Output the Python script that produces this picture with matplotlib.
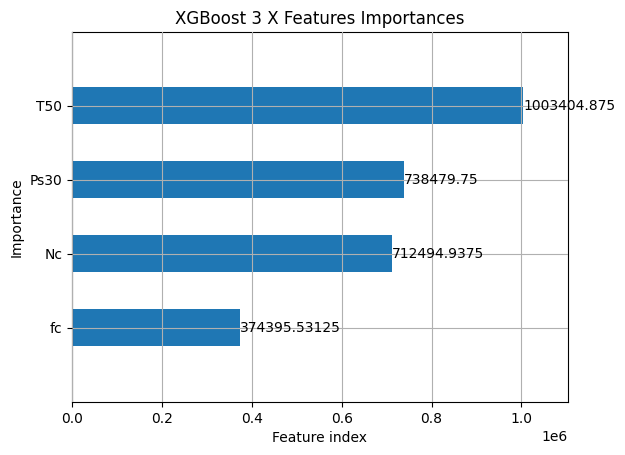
import numpy as np
import matplotlib
matplotlib.use('Agg')
import matplotlib.pyplot as plt

# Datos de importancia (de menor a mayor).
features = ['fc', 'Nc', 'Ps30', 'T50']
importances = [374395.53125, 712494.9375, 738479.75, 1003404.875]
value_labels = ['374395.53125', '712494.9375', '738479.75', '1003404.875']

fig, ax = plt.subplots(figsize=(6.25, 4.55), dpi=100)
fig.subplots_adjust(left=0.115, right=0.909, top=0.930, bottom=0.1165)

ylocs = np.arange(len(features))
ax.barh(ylocs, importances, align='center', height=0.5, color='#1f77b4')

for x, y, lab in zip(importances, ylocs, value_labels):
    ax.text(x, y, lab, va='center')

ax.set_yticks(ylocs)
ax.set_yticklabels(features)
ax.set_xlim(0, max(importances) * 1.1)
ax.set_ylim(-1, len(features))
ax.grid(True)
ax.set_axisbelow(False)

ax.set_title('XGBoost 3 X Features Importances')
ax.set_xlabel('Feature index')
ax.set_ylabel('Importance')

fig.savefig('out.png')
